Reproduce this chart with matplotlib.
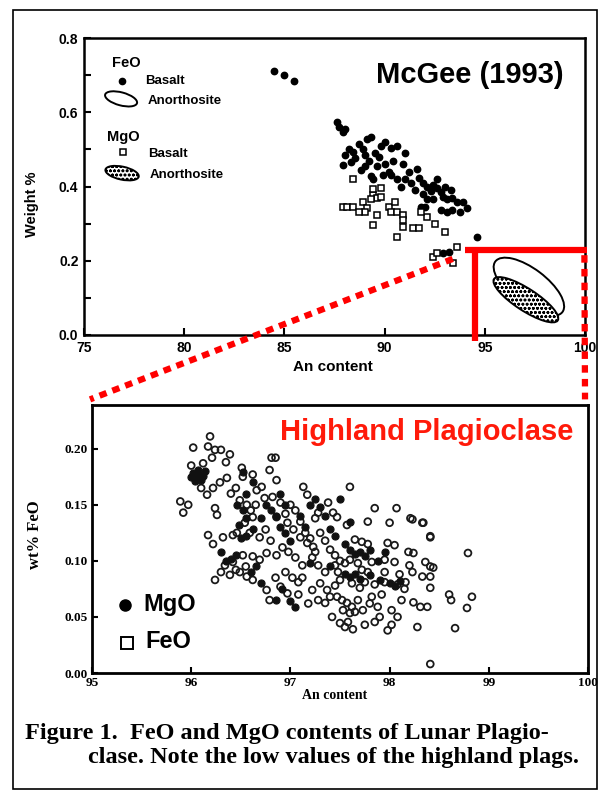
import matplotlib
matplotlib.use("Agg")
import matplotlib.pyplot as plt
import matplotlib.transforms as mtransforms
from matplotlib.patches import Ellipse, Rectangle, ConnectionPatch
import numpy as np

plt.rcParams['hatch.linewidth'] = 0.8

# ---- top panel: McGee (1993) basalt plagioclase ----
feo_basalt_an = [84.5, 85.0, 85.5,
                 87.6, 88.0, 87.9, 87.7, 88.7, 89.1, 89.3, 89.8, 90.3, 90.6, 88.4, 88.5,
                 87.9, 88.3, 89.3, 89.4, 90.3, 90.6, 90.8, 91.6, 91.7, 91.9, 92.1, 92.3,
                 92.4, 92.6, 92.8, 92.9, 92.4, 93.1, 93.35, 93.6, 93.9, 94.1, 93.75, 93.35,
                 93.1, 92.8, 92.1, 92.0, 91.8, 94.6, 92.9, 93.2,
                 88.9, 89.0, 89.5, 89.2, 89.7, 89.0, 88.8, 89.6, 90.0, 90.4, 90.9, 91.2,
                 91.0, 90.2, 89.9, 91.3, 91.5, 91.9, 92.6, 93.0, 93.3, 91.0, 90.0, 88.2, 88.0]
feo_basalt_wt = [0.71, 0.70, 0.685,
                 0.573, 0.554, 0.546, 0.56, 0.514, 0.527, 0.532, 0.508, 0.505, 0.508, 0.492, 0.478,
                 0.459, 0.465, 0.427, 0.419, 0.432, 0.419, 0.400, 0.446, 0.424, 0.410, 0.400, 0.387,
                 0.405, 0.397, 0.384, 0.373, 0.365, 0.365, 0.370, 0.357, 0.357, 0.343, 0.332, 0.338,
                 0.330, 0.338, 0.365, 0.346, 0.346, 0.265, 0.222, 0.224,
                 0.50, 0.485, 0.49, 0.47, 0.48, 0.455, 0.445, 0.455, 0.46, 0.47, 0.46, 0.44,
                 0.42, 0.44, 0.43, 0.41, 0.39, 0.38, 0.42, 0.40, 0.39, 0.49, 0.52, 0.50, 0.485]

mgo_basalt_an = [88.4, 89.8, 89.4, 89.6, 89.3, 87.9, 88.1, 88.4, 88.9, 89.1, 89.0, 88.7,
                 89.6, 89.4, 90.2, 90.3, 90.5, 90.6, 90.9, 90.9, 90.9, 90.6, 91.4, 91.7,
                 92.1, 93.0, 89.4, 89.8, 93.6, 92.4, 92.6, 93.4, 91.8, 92.5]
mgo_basalt_wt = [0.419, 0.397, 0.378, 0.37, 0.365, 0.346, 0.346, 0.346, 0.357, 0.343, 0.33, 0.33,
                 0.324, 0.297, 0.346, 0.332, 0.357, 0.33, 0.324, 0.311, 0.292, 0.265, 0.289, 0.289,
                 0.319, 0.278, 0.392, 0.373, 0.238, 0.21, 0.22, 0.195, 0.33, 0.30]

# anorthosite fields: centre (An, wt%)
feo_anorth_centre = (97.2, 0.13)
mgo_anorth_centre = (97.05, 0.095)

# ---- bottom panel: highland plagioclase ----
hl_feo_an = [96.19, 96.02, 96.17, 96.24, 96.30, 96.39, 96.21, 96.85, 96.52, 96.62, 96.51, 96.81,
             96.79, 96.86, 96.71, 96.66, 95.89, 95.97, 95.92, 96.16, 96.22, 96.29, 96.36, 96.24,
             96.26, 96.17, 96.22, 96.32, 96.42, 96.34, 96.42, 96.24, 96.39, 96.49, 96.56, 96.62,
             96.76, 96.79, 96.90, 96.97, 96.52, 96.62, 96.69, 96.76, 96.86, 96.49, 96.56, 96.62,
             96.54, 96.46, 96.59, 96.69, 96.74, 96.82, 96.90, 96.86, 96.97, 97.03, 97.10, 97.17,
             97.23,
             97.13, 97.17, 97.38, 97.60, 97.43, 97.47, 97.28, 97.25, 97.85, 98.07, 97.78, 98.00,
             98.23, 97.57, 97.65, 97.72, 97.78, 97.98, 98.05, 98.19, 97.95, 98.05, 98.23, 97.82,
             97.48, 97.45, 97.35, 97.28, 97.22, 97.12, 97.05, 97.02, 97.08, 97.22, 97.37, 97.08,
             97.28, 97.35, 97.47, 97.52, 97.57, 97.62, 97.53, 97.60, 97.65, 97.50, 97.55, 97.58,
             97.63, 97.75, 97.73, 97.88, 97.90, 98.02, 98.08, 98.02, 97.98, 97.85, 97.75, 97.85,
             97.95, 98.08, 98.16, 97.82, 97.92,
             98.34, 98.41, 98.79, 98.24, 98.36, 98.41, 98.44, 98.33, 98.41, 98.41, 98.60, 98.62,
             98.83, 98.78, 98.24, 98.31, 98.38, 98.28, 98.66, 98.41, 98.21, 98.33, 98.41,
             97.00, 97.05, 96.95, 97.10, 97.15, 97.20, 97.30, 97.35, 97.25, 97.40, 97.45, 97.50,
             97.55, 97.60, 97.68, 97.72, 97.62, 97.50, 97.45, 97.70, 97.78, 97.95, 98.10, 98.15,
             96.98, 96.92, 96.80, 96.75, 96.60, 96.65, 96.40, 96.45, 96.35, 96.12, 96.10, 96.00,
             96.55, 96.45, 96.30, 96.85, 96.95, 97.12, 97.30, 97.40, 97.18, 97.42, 97.68, 97.80,
             98.12, 98.20]
hl_feo_wt = [0.211, 0.201, 0.202, 0.199, 0.199, 0.195, 0.192, 0.192, 0.175, 0.177, 0.183, 0.192,
             0.181, 0.172, 0.166, 0.163, 0.153, 0.150, 0.143, 0.159, 0.165, 0.170, 0.174, 0.147,
             0.141, 0.123, 0.115, 0.121, 0.123, 0.096, 0.099, 0.083, 0.0875, 0.090, 0.086, 0.083,
             0.074, 0.065, 0.077, 0.071, 0.105, 0.104, 0.101, 0.107, 0.105, 0.154, 0.150, 0.139,
             0.134, 0.125, 0.125, 0.121, 0.156, 0.157, 0.152, 0.139, 0.134, 0.128, 0.121, 0.116,
             0.1125,
             0.166, 0.159, 0.152, 0.166, 0.143, 0.139, 0.143, 0.138, 0.147, 0.147, 0.135, 0.134,
             0.137, 0.132, 0.119, 0.117, 0.115, 0.116, 0.114, 0.108, 0.101, 0.099, 0.090, 0.099,
             0.090, 0.096, 0.090, 0.096, 0.103, 0.096, 0.103, 0.085, 0.081, 0.074, 0.074, 0.070,
             0.065, 0.0625, 0.068, 0.065, 0.0625, 0.059, 0.056, 0.0535, 0.0545, 0.0445, 0.041, 0.0455,
             0.039, 0.043, 0.056, 0.059, 0.050, 0.056, 0.050, 0.043, 0.038, 0.0455, 0.081, 0.079,
             0.081, 0.079, 0.081, 0.068, 0.070,
             0.134, 0.122, 0.107, 0.107, 0.099, 0.095, 0.094, 0.086, 0.086, 0.076, 0.070, 0.065,
             0.068, 0.058, 0.063, 0.059, 0.059, 0.041, 0.040, 0.008, 0.138, 0.134, 0.121,
             0.150, 0.145, 0.142, 0.135, 0.125, 0.120, 0.125, 0.118, 0.108, 0.110, 0.105, 0.100,
             0.098, 0.101, 0.098, 0.092, 0.080, 0.083, 0.078, 0.076, 0.090, 0.090, 0.088, 0.075,
             0.108, 0.112, 0.118, 0.128, 0.145, 0.150, 0.160, 0.165, 0.188, 0.187, 0.165, 0.185,
             0.095, 0.092, 0.090, 0.085, 0.090, 0.085, 0.080, 0.068, 0.062, 0.050, 0.065, 0.062,
             0.065, 0.096]

hl_mgo_an = [96.02, 96.05, 96.08, 96.10, 96.04, 96.12, 96.07, 96.00, 96.14, 96.52,
             96.46, 96.52, 96.55, 96.48, 96.75, 96.80, 96.85, 96.90, 96.95, 97.00, 96.70, 96.62,
             96.55, 96.50, 97.20, 97.25, 97.30, 97.35, 97.10, 97.15, 97.40, 97.45, 97.55, 97.60,
             97.65, 97.70, 97.75, 97.80, 97.55, 97.60, 97.65, 97.70, 97.80, 97.90, 98.00, 98.05,
             98.10, 97.40, 97.20, 96.70, 96.65, 96.60, 96.45, 96.40, 96.92, 97.05, 97.00, 96.85,
             97.88, 97.95, 97.60, 96.62, 96.55, 96.90, 96.95, 97.50, 96.30, 96.35]
hl_mgo_wt = [0.178, 0.175, 0.177, 0.172, 0.171, 0.176, 0.181, 0.175, 0.180, 0.179,
             0.150, 0.145, 0.138, 0.132, 0.150, 0.145, 0.140, 0.130, 0.125, 0.118, 0.138, 0.128,
             0.122, 0.120, 0.150, 0.155, 0.148, 0.140, 0.140, 0.130, 0.128, 0.122, 0.115, 0.110,
             0.106, 0.108, 0.104, 0.110, 0.088, 0.086, 0.088, 0.084, 0.087, 0.083, 0.080, 0.078,
             0.082, 0.095, 0.098, 0.080, 0.095, 0.090, 0.105, 0.102, 0.075, 0.059, 0.064, 0.065,
             0.100, 0.108, 0.135, 0.170, 0.160, 0.160, 0.150, 0.155, 0.108, 0.100]

fig = plt.figure(figsize=(6.02, 7.92), dpi=100)
fig.patch.set_facecolor('white')
fig.add_artist(Rectangle((13/602, 3/792), 584/602, 779/792, transform=fig.transFigure,
                         fill=False, edgecolor='black', lw=1.2))

sans = 'Liberation Sans'
serif = 'Liberation Serif'

# ================= top panel =================
ax1 = fig.add_axes([84/602, 1 - 335/792, 501/602, 297/792])
ax1.set_xlim(75, 100)
ax1.set_ylim(0, 0.8)
for s in ax1.spines.values():
    s.set_linewidth(1.8)
ax1.set_xticks([75, 80, 85, 90, 95, 100])
ax1.set_yticks([0.0, 0.2, 0.4, 0.6, 0.8])
ax1.set_yticks([0.1, 0.3, 0.5, 0.7], minor=True)
ax1.set_xticklabels(['75', '80', '85', '90', '95', '100'], fontfamily=sans, fontweight='bold', fontsize=10)
ax1.set_yticklabels(['0.0', '0.2', '0.4', '0.6', '0.8'], fontfamily=sans, fontweight='bold', fontsize=10)
ax1.tick_params(which='both', direction='in', length=5, width=1.5)
ax1.tick_params(axis='x', pad=4)
ax1.tick_params(axis='y', pad=4)
ax1.set_xlabel('An content', fontfamily=sans, fontweight='bold', fontsize=11)
ax1.set_ylabel('Weight %', fontfamily=sans, fontweight='bold', fontsize=10.5)
ax1.xaxis.set_label_coords(0.497, -0.085)
ax1.yaxis.set_label_coords(-0.09, 0.44)

ax1.plot(feo_basalt_an, feo_basalt_wt, 'o', color='black', ms=4.6, zorder=3)
ax1.plot(mgo_basalt_an, mgo_basalt_wt, 's', mfc='white', mec='black', mew=1.1, ms=4.0, zorder=3)

def field(ax, centre, w, h, ang, hatched, coords=None):
    tr = mtransforms.ScaledTranslation(centre[0], centre[1], coords if coords is not None else ax.transData)
    e = Ellipse((0, 0), w, h, angle=ang, transform=mtransforms.IdentityTransform() + tr,
                facecolor='white', edgecolor='black', lw=1.4, hatch='oooo' if hatched else None,
                zorder=4, clip_on=False)
    ax.add_artist(e)

field(ax1, feo_anorth_centre, 84, 36, -37, False)
field(ax1, mgo_anorth_centre, 76, 22, -33, True)

# red box marking the highland range
ax1.plot([94.0, 100.1], [0.23, 0.23], color='red', lw=4.5, solid_capstyle='butt', clip_on=False, zorder=5)
ax1.plot([94.5, 94.5], [-0.015, 0.23], color='red', lw=4.5, solid_capstyle='butt', clip_on=False, zorder=5)

# legend
ax1.text(0.056, 0.916, 'FeO', transform=ax1.transAxes, fontfamily=sans, fontweight='bold', fontsize=10.5, va='center')
ax1.plot([0.076], [0.855], 'o', color='black', ms=4.5, transform=ax1.transAxes)
ax1.text(0.122, 0.855, 'Basalt', transform=ax1.transAxes, fontfamily=sans, fontweight='bold', fontsize=9.5, va='center')
field(ax1, (0.074, 0.795), 33, 13, -15, False, coords=ax1.transAxes)
ax1.text(0.128, 0.788, 'Anorthosite', transform=ax1.transAxes, fontfamily=sans, fontweight='bold', fontsize=9.5, va='center')
ax1.text(0.046, 0.667, 'MgO', transform=ax1.transAxes, fontfamily=sans, fontweight='bold', fontsize=10.5, va='center')
ax1.plot([0.078], [0.616], 's', mfc='white', mec='black', mew=1.1, ms=4.0, transform=ax1.transAxes)
ax1.text(0.128, 0.611, 'Basalt', transform=ax1.transAxes, fontfamily=sans, fontweight='bold', fontsize=9.5, va='center')
field(ax1, (0.076, 0.545), 34, 13, -12, True, coords=ax1.transAxes)
ax1.text(0.132, 0.539, 'Anorthosite', transform=ax1.transAxes, fontfamily=sans, fontweight='bold', fontsize=9.5, va='center')

ax1.text(0.77, 0.875, 'McGee (1993)', transform=ax1.transAxes, fontfamily=sans, fontweight='bold',
         fontsize=21, ha='center', va='center')

# ================= bottom panel =================
ax2 = fig.add_axes([92/602, 1 - 673/792, 496/602, 268/792])
ax2.set_xlim(95, 100)
ax2.set_ylim(0, 0.239)
for s in ax2.spines.values():
    s.set_linewidth(2.0)
ax2.set_xticks([95, 96, 97, 98, 99, 100])
ax2.set_yticks([0.0, 0.05, 0.10, 0.15, 0.20])
ax2.set_xticklabels(['95', '96', '97', '98', '99', '100'], fontfamily=serif, fontweight='bold', fontsize=9.5)
ax2.set_yticklabels(['0.00', '0.05', '0.10', '0.15', '0.20'], fontfamily=serif, fontweight='bold', fontsize=9.5)
ax2.tick_params(direction='in', length=4, width=1.5, pad=3)
ax2.set_xlabel('An content', fontfamily=serif, fontweight='bold', fontsize=10)
ax2.set_ylabel('wt% FeO', fontfamily=serif, fontweight='bold', fontsize=12)
ax2.xaxis.set_label_coords(0.49, -0.058)
ax2.yaxis.set_label_coords(-0.099, 0.515)

ax2.scatter(hl_feo_an, hl_feo_wt, s=24, facecolors='none', edgecolors='#1a1a1a', linewidths=1.3, zorder=3)
ax2.scatter(hl_mgo_an, hl_mgo_wt, s=26, facecolors='#111111', edgecolors='#111111', linewidths=0.8, zorder=3)

ax2.text(0.675, 0.899, 'Highland Plagioclase', transform=ax2.transAxes, color='#ff1a0a',
         fontfamily=sans, fontweight='bold', fontsize=21, ha='center', va='center')
ax2.plot([0.0665], [0.254], 'o', color='black', ms=8, transform=ax2.transAxes)
ax2.text(0.103, 0.254, 'MgO', transform=ax2.transAxes, fontfamily=sans, fontweight='bold', fontsize=17, va='center')
ax2.plot([0.0706], [0.112], 's', mfc='white', mec='black', mew=1.4, ms=9, transform=ax2.transAxes)
ax2.text(0.107, 0.116, 'FeO', transform=ax2.transAxes, fontfamily=sans, fontweight='bold', fontsize=17, va='center')

# dotted zoom connectors
for xa, ya, xb, yb in [(93.4, 0.205, 94.98, 0.244), (99.97, 0.215, 99.97, 0.244)]:
    con = ConnectionPatch(xyA=(xa, ya), coordsA=ax1.transData, xyB=(xb, yb), coordsB=ax2.transData,
                          color='red', lw=4.5, linestyle=(0, (1.2, 1.0)), zorder=6)
    con.set_capstyle('butt')
    fig.add_artist(con)

fig.text(25/602, 1 - 733/792, 'Figure 1.  FeO and MgO contents of Lunar Plagio-', fontfamily=serif,
         fontweight='bold', fontsize=17.5, va='center')
fig.text(88/602, 1 - 757/792, 'clase. Note the low values of the highland plags.', fontfamily=serif,
         fontweight='bold', fontsize=17.5, va='center')

fig.savefig('out.png', dpi=100)
